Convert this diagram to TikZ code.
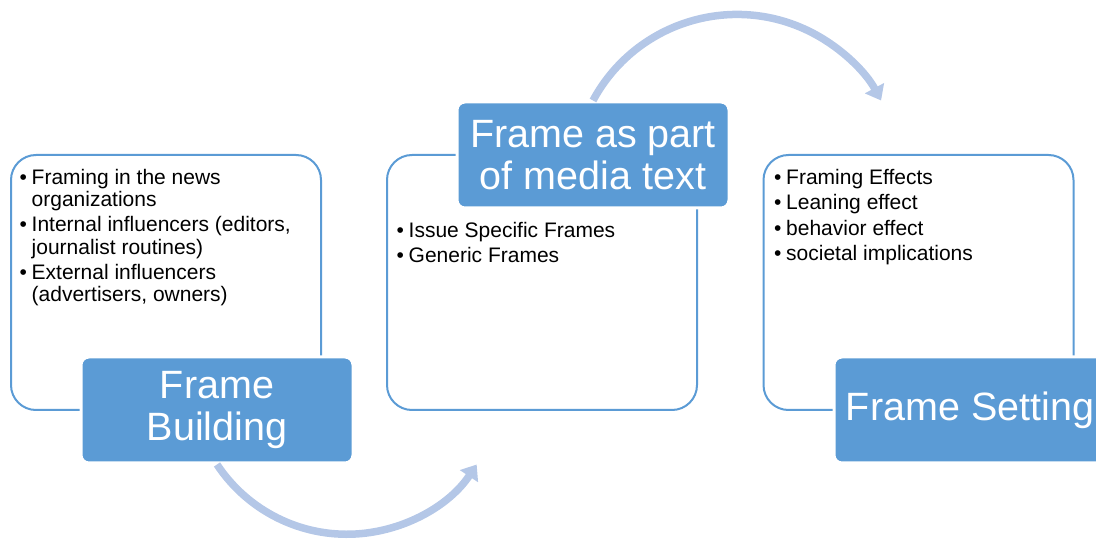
\documentclass[tikz,border=0pt]{standalone}
\usepackage{fontspec}
\setmainfont{Liberation Sans}
\usetikzlibrary{arrows.meta}
\definecolor{stepblue}{HTML}{5B9BD5}
\definecolor{arcblue}{HTML}{B4C7E7}
\newcommand{\itembullet}{\makebox[12pt][l]{\textbullet}}
\newcommand{\itemgap}{\hspace*{12pt}}

\begin{document}
\begin{tikzpicture}[x=1pt,y=1pt,
	outer/.style={draw=stepblue,line width=2pt,rounded corners=25pt,minimum width=310pt,minimum height=255pt,inner sep=0pt},
	title/.style={fill=stepblue,draw=white,line width=3pt,rounded corners=8pt,minimum width=272pt,minimum height=106pt,inner sep=0pt,text=white,align=center,font=\fontsize{39.5}{42}\selectfont},
	items/.style={anchor=north west,inner sep=0pt,align=left,font=\fontsize{21}{25.5}\selectfont},
	flow/.style={arcblue,line width=7.5pt,-{Triangle[width=21pt,length=14pt]}}]
		\useasboundingbox (0,0) rectangle (1096,541);
		\foreach \n/\x in {build/166,media/542,setting/918.5}{
			\node[outer] (\n box) at (\x,258.5) {};
		}
		\node[items,font=\fontsize{21}{22.3}\selectfont] (buildlist) at (19.5,372) {%
			\itembullet Framing in the news\\
			\itemgap organizations\\[2.7pt]
			\itembullet Internal influencers (editors,\\
			\itemgap journalist routines)\\[2.7pt]
			\itembullet External influencers\\
			\itemgap (advertisers, owners)};
		\node[items] (medialist) at (396.5,319) {%
			\itembullet Issue Specific Frames\\
			\itembullet Generic Frames};
		\node[items] (settinglist) at (774,372) {%
			\itembullet Framing Effects\\
			\itembullet Leaning effect\\
			\itembullet behavior effect\\
			\itembullet societal implications};
		\node[title] (build) at (217,131) {Frame\\Building};
		\node[title] (media) at (593,386) {Frame as part\\of media text};
		\node[title] (setting) at (970,131) {Frame Setting};
		\draw[flow] (build.south) arc[start angle=213.5,end angle=326.5,radius=155.7];
		\draw[flow] (media.north) arc[start angle=151.7,end angle=28.3,radius=163.6];
\end{tikzpicture}
\end{document}
